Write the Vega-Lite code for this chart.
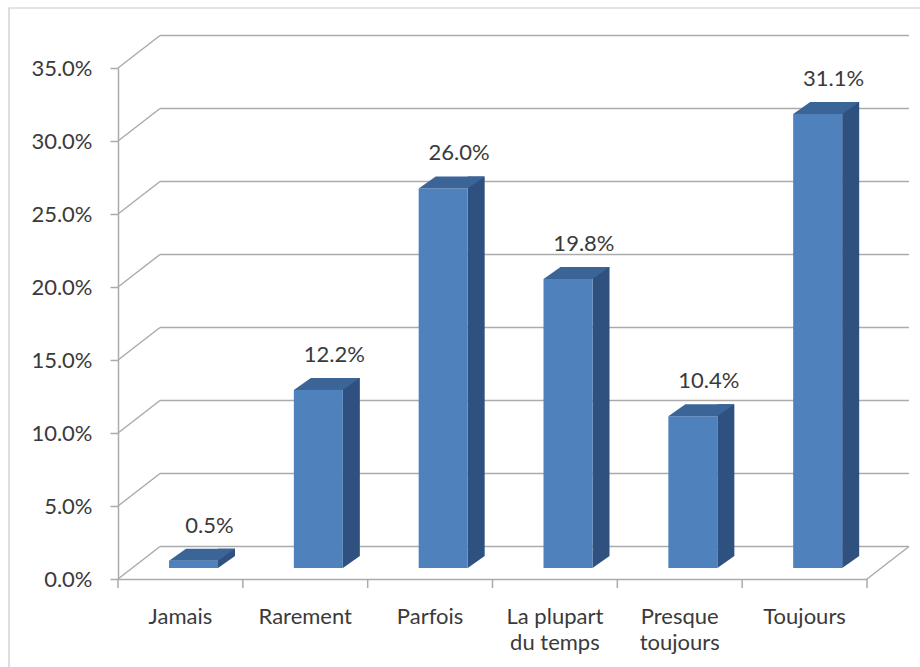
{
  "$schema": "https://vega.github.io/schema/vega-lite/v6.json",
  "width": 749,
  "height": 511,
  "autosize": {"type": "none"},
  "padding": {"left": 118, "top": 68, "right": 53, "bottom": 88},
  "background": "white",
  "config": {
    "view": {"stroke": null},
    "font": "Lato",
    "axisY": {
      "format": ".1%",
      "values": [0, 0.05, 0.1, 0.15, 0.2, 0.25, 0.3, 0.35],
      "labelOverlap": false,
      "labelFlush": false,
      "grid": false,
      "labelFont": "Lato",
      "labelFontSize": 22,
      "labelColor": "#3A3A3A",
      "labelPadding": 18,
      "tickSize": 8,
      "tickColor": "#ABABAB",
      "tickWidth": 1.5,
      "domainColor": "#ABABAB",
      "domainWidth": 1.5
    }
  },
  "datasets": {
    "responses": [
      {"answer": "Jamais", "pct": 0.005},
      {"answer": "Rarement", "pct": 0.122},
      {"answer": "Parfois", "pct": 0.26},
      {"answer": "La plupart du temps", "pct": 0.198},
      {"answer": "Presque toujours", "pct": 0.104},
      {"answer": "Toujours", "pct": 0.311}
    ],
    "gridlines": [
      {"pct": 0}, {"pct": 0.05}, {"pct": 0.1}, {"pct": 0.15},
      {"pct": 0.2}, {"pct": 0.25}, {"pct": 0.3}, {"pct": 0.35}
    ],
    "boundaries": [
      {"pos": 0}, {"pos": 1}, {"pos": 2}, {"pos": 3},
      {"pos": 4}, {"pos": 5}, {"pos": 6}
    ]
  },
  "layer": [
    {
      "layer": [
        {
          "data": {"values": [{}]},
          "mark": {"type": "rect", "filled": false, "stroke": "#C8C8C8", "strokeWidth": 1.2,
                   "xOffset": -109, "x2Offset": 100, "yOffset": -60, "y2Offset": 100},
          "encoding": {
            "x": {"datum": 0, "type": "quantitative", "scale": {"domain": [0, 6]}, "axis": null},
            "x2": {"datum": 6},
            "y": {"datum": 0.35, "type": "quantitative", "scale": {"domain": [0, 0.35], "nice": false}},
            "y2": {"datum": 0}
          }
        },
        {
          "data": {"name": "gridlines"},
          "mark": {"type": "rule", "color": "#ABABAB", "strokeWidth": 1.5,
                   "xOffset": 42, "x2Offset": 42, "yOffset": -32.5, "y2Offset": -32.5},
          "encoding": {
            "x": {"datum": 0, "type": "quantitative", "scale": {"domain": [0, 6]}, "axis": null},
            "x2": {"datum": 6},
            "y": {"field": "pct", "type": "quantitative", "title": null,
                  "scale": {"domain": [0, 0.35], "nice": false},
                  "axis": {"values": [0, 0.05, 0.1, 0.15, 0.2, 0.25, 0.3, 0.35], "labelOverlap": false}},
            "y2": {"field": "pct"}
          }
        },
        {
          "data": {"name": "gridlines"},
          "mark": {"type": "rule", "color": "#ABABAB", "strokeWidth": 1.5,
                   "x2Offset": 42, "y2Offset": -32.5},
          "encoding": {
            "x": {"datum": 0, "type": "quantitative", "scale": {"domain": [0, 6]}, "axis": null},
            "x2": {"datum": 0},
            "y": {"field": "pct", "type": "quantitative", "title": null},
            "y2": {"field": "pct"}
          }
        },
        {
          "data": {"values": [{}]},
          "mark": {"type": "rule", "color": "#ABABAB", "strokeWidth": 1.5,
                   "x2Offset": 42, "y2Offset": -32.5},
          "encoding": {
            "x": {"datum": 6, "type": "quantitative", "scale": {"domain": [0, 6]}, "axis": null},
            "x2": {"datum": 6},
            "y": {"datum": 0, "type": "quantitative"},
            "y2": {"datum": 0}
          }
        },
        {
          "data": {"name": "boundaries"},
          "mark": {"type": "rule", "color": "#ABABAB", "strokeWidth": 1.5, "y2Offset": 9},
          "encoding": {
            "x": {"field": "pos", "type": "quantitative", "scale": {"domain": [0, 6]}, "axis": null},
            "y": {"datum": 0, "type": "quantitative"},
            "y2": {"datum": 0}
          }
        }
      ]
    },
    {
      "data": {"name": "responses"},
      "encoding": {
        "x": {
          "field": "answer", "type": "nominal", "sort": null,
          "scale": {"type": "band", "paddingInner": 0.6075, "paddingOuter": 0.30375},
          "axis": {
            "title": null,
            "domainColor": "#ABABAB",
            "domainWidth": 1.5,
            "ticks": false,
            "tickSize": 0,
            "labelAngle": 0,
            "labelFont": "Lato",
            "labelFontSize": 22,
            "labelColor": "#3A3A3A",
            "labelPadding": 27,
            "labelBaseline": "top",
            "labelLineHeight": 26,
            "labelExpr": "datum.value == 'La plupart du temps' ? ['La plupart', 'du temps'] : datum.value == 'Presque toujours' ? ['Presque', 'toujours'] : datum.value"
          }
        },
        "y": {"field": "pct", "type": "quantitative", "title": null}
      },
      "layer": [
        {
          "mark": {"type": "bar", "width": 17, "xOffset": 46.1, "yOffset": -23, "y2Offset": -23, "color": "#2F5180"},
          "encoding": {"y2": {"datum": 0}}
        },
        {
          "mark": {"type": "point", "shape": "M 37.6 -23 L 54.6 -23 L 37.6 -11 Z", "size": 4,
                   "filled": true, "opacity": 1, "strokeWidth": 0, "color": "#2F5180"},
          "encoding": {"y": {"datum": 0, "type": "quantitative"}}
        },
        {
          "mark": {"type": "bar", "width": 49, "xOffset": 13.1, "yOffset": -11, "y2Offset": -11, "color": "#4F81BD"},
          "encoding": {"y2": {"datum": 0}}
        },
        {
          "mark": {"type": "point", "shape": "M -11.4 -11 L 37.6 -11 L 54.6 -23 L 5.6 -23 Z", "size": 4,
                   "filled": true, "opacity": 1, "strokeWidth": 0, "color": "#3B6597"}
        },
        {
          "mark": {"type": "text", "dx": 29, "dy": -39, "baseline": "alphabetic", "align": "center",
                   "font": "Lato", "fontSize": 22, "color": "#3A3A3A"},
          "encoding": {"text": {"field": "pct", "type": "quantitative", "format": ".1%"}}
        }
      ]
    }
  ],
  "resolve": {"scale": {"x": "independent"}}
}
